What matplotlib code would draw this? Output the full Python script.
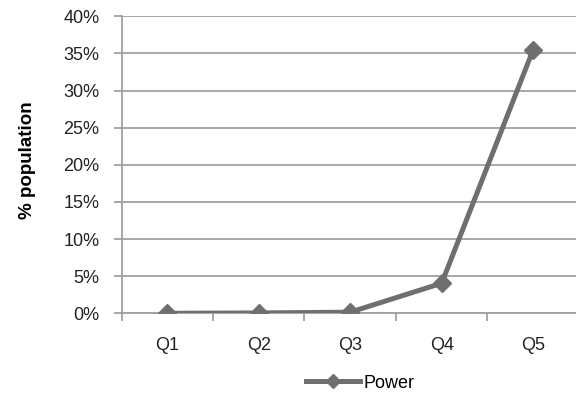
import matplotlib
matplotlib.use("Agg")
import matplotlib.pyplot as plt
from matplotlib import font_manager

quintiles = ["Q1", "Q2", "Q3", "Q4", "Q5"]
power = [0.0, 0.05, 0.15, 4.05, 35.5]
yticks = [0, 5, 10, 15, 20, 25, 30, 35, 40]

names = {f.name for f in font_manager.fontManager.ttflist}
fam = "Liberation Sans Narrow" if "Liberation Sans Narrow" in names else "Liberation Sans"
plt.rcParams["font.family"] = [fam, "DejaVu Sans"]

grey = "#a0a0a0"
line_col = "#6f6f6f"

fig = plt.figure(figsize=(5.76, 3.94), dpi=100)
ax = fig.add_axes([0.211, 0.2048, 0.794, 0.7538])

ax.plot(range(len(quintiles)), power, color=line_col, lw=3.6, marker="D",
        markersize=9, markeredgecolor=line_col, markerfacecolor=line_col,
        label="Power", zorder=3)

ax.set_xlim(-0.5, 4.5)
ax.set_ylim(0, 40)
ax.set_yticks(yticks)
ax.set_yticklabels([f"{t}%" for t in yticks])
ax.set_xticks(range(len(quintiles)))
ax.set_xticklabels(quintiles)
ax.set_xticks([i + 0.5 for i in range(-1, 5)], minor=True)

ax.grid(axis="y", color=grey, lw=1.3)
ax.set_axisbelow(True)
for s in ["top", "right"]:
    ax.spines[s].set_visible(False)
for s in ["left", "bottom"]:
    ax.spines[s].set_color(grey)
    ax.spines[s].set_linewidth(1.3)

ax.tick_params(axis="y", length=6, width=1.3, color=grey, labelsize=13, pad=10, labelcolor="#222222")
ax.tick_params(axis="x", which="major", length=0, labelsize=13, pad=17, labelcolor="#222222")
ax.tick_params(axis="x", which="minor", length=6, width=1.3, color=grey)

ax.set_ylabel("% population", fontsize=13.5, fontweight="bold")
# label centred a bit above the axes middle, as in the original
ax.yaxis.set_label_coords(36 / 576, (394 - 160) / 394, transform=fig.transFigure)

fig.legend(*ax.get_legend_handles_labels(), loc="center",
           bbox_to_anchor=(360 / 576, 11 / 394), frameon=False,
           fontsize=13, handlelength=3.0, handletextpad=0.2, markerscale=0.8)

fig.savefig("out.png", dpi=100)
